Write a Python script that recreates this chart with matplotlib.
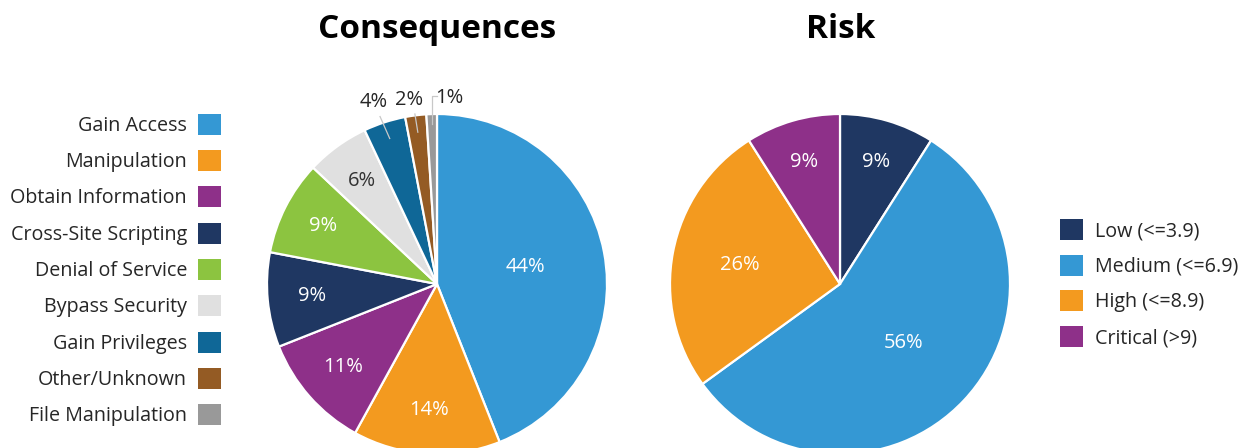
import numpy as np
import matplotlib
matplotlib.use("Agg")
import matplotlib.pyplot as plt

plt.rcParams["font.family"] = ["Open Sans", "DejaVu Sans"]

# Consequences of vulnerabilities
cons_labels = ["Gain Access", "Manipulation", "Obtain Information", "Cross-Site Scripting",
               "Denial of Service", "Bypass Security", "Gain Privileges", "Other/Unknown",
               "File Manipulation"]
cons_values = [44, 14, 11, 9, 9, 6, 4, 2, 1]
cons_colors = ["#3498d4", "#f39a1f", "#8e3089", "#1f3762", "#8cc440", "#e0e0e0",
               "#0f6797", "#945b24", "#999999"]

# Risk levels
risk_labels = ["Low (<=3.9)", "Medium (<=6.9)", "High (<=8.9)", "Critical (>9)"]
risk_values = [9, 56, 26, 9]
risk_colors = ["#1f3762", "#3498d4", "#f39a1f", "#8e3089"]

W, H = 1241, 448
fig = plt.figure(figsize=(W / 100, H / 100), dpi=100)
TXT = "#262626"
FS = 14.2
PFS = 14.5


def pie_axes(cx, cy, r):
    return fig.add_axes([(cx - r) / W, (H - cy - r) / H, 2 * r / W, 2 * r / H])


def draw_pie(ax, values, colors):
    wedges, _ = ax.pie(values, colors=colors, startangle=90, counterclock=False,
                       radius=1.0, wedgeprops=dict(edgecolor="white", linewidth=1.6))
    ax.set_xlim(-1, 1)
    ax.set_ylim(-1, 1)
    ax.set_aspect("equal")
    ax.axis("off")
    return wedges


def mid_angle(w):
    return np.deg2rad((w.theta1 + w.theta2) / 2)


# ---- Consequences pie ----
ax1 = pie_axes(437, 284, 170)
w1 = draw_pie(ax1, cons_values, cons_colors)

inside_dist = [0.53, 0.74, 0.74, 0.74, 0.75, 0.75]
inside_col = ["white", "white", "white", "white", "white", "#333333"]
for w, v, d, c in zip(w1[:6], cons_values[:6], inside_dist, inside_col):
    a = mid_angle(w)
    ax1.text(d * np.cos(a), d * np.sin(a), f"{v}%", ha="center", va="center",
             fontsize=PFS, color=c)

# small slices: labels outside with leader lines
outside_pos = [(-0.37, 1.07), (-0.165, 1.085), (0.075, 1.095)]
for w, v, (tx, ty) in zip(w1[6:], cons_values[6:], outside_pos):
    a = mid_angle(w)
    sx, sy = 0.9 * np.cos(a), 0.9 * np.sin(a)
    if v > 1:
        ax1.plot([sx, tx + 0.035], [sy, ty - 0.085], color="#c8c8c8", lw=0.9,
                 clip_on=False, zorder=3)
    else:
        ax1.plot([sx, sx, tx - 0.075], [0.95 * np.sin(a) - 0.01, ty + 0.01, ty + 0.01],
                 color="#c8c8c8", lw=0.9, clip_on=False, zorder=3)
    ax1.text(tx, ty, f"{v}%", ha="center", va="center", fontsize=PFS, color=TXT,
             clip_on=False)

# ---- Risk pie ----
ax2 = pie_axes(840, 284, 170)
w2 = draw_pie(ax2, risk_values, risk_colors)
risk_dist = [0.75, 0.51, 0.6, 0.75]
for w, v, d in zip(w2, risk_values, risk_dist):
    a = mid_angle(w)
    ax2.text(d * np.cos(a), d * np.sin(a), f"{v}%", ha="center", va="center",
             fontsize=PFS, color="white")

# ---- Titles ----
fig.text(437 / W, 1 - 30 / H, "Consequences", ha="center", va="center",
         fontsize=24, fontweight="bold", color="black")
fig.text(841 / W, 1 - 30 / H, "Risk", ha="center", va="center",
         fontsize=24, fontweight="bold", color="black")

# ---- Legends ----
leg_kw = dict(frameon=False, fontsize=FS, handlelength=1.17, handleheight=1.26,
              borderpad=0, borderaxespad=0, labelcolor=TXT)
leg1 = fig.legend(w1, cons_labels, loc="center right",
                  bbox_to_anchor=(221 / W, 1 - 270 / H),
                  markerfirst=False, handletextpad=0.55, labelspacing=0.72, **leg_kw)
leg2 = fig.legend(w2, risk_labels, loc="center left",
                  bbox_to_anchor=(1060 / W, 1 - 283.5 / H),
                  handletextpad=0.6, labelspacing=0.685, **leg_kw)
for leg in (leg1, leg2):
    for h in leg.legend_handles:
        h.set_edgecolor("none")
        h.set_linewidth(0)

fig.savefig("out.png", dpi=100, facecolor="white")
